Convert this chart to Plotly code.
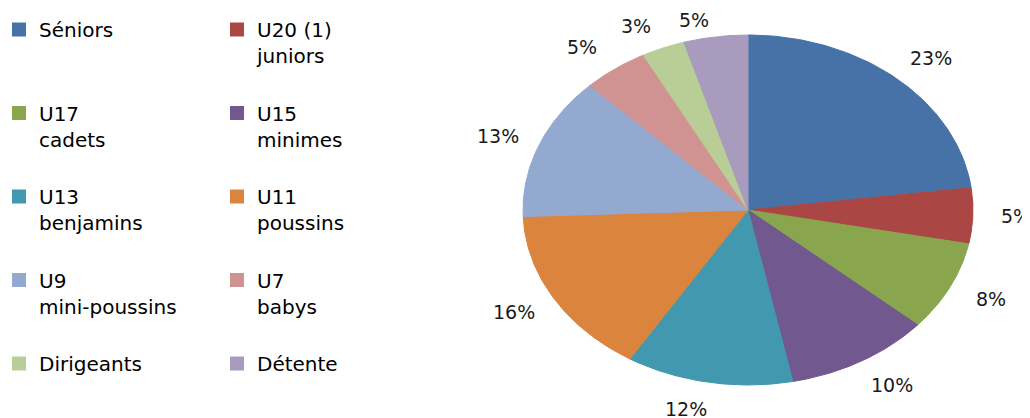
import numpy as np
import plotly.graph_objects as go

# ---- data ----
categories = ["Séniors", "U20 (1)<br>juniors", "U17<br>cadets", "U15<br>minimes",
              "U13<br>benjamins", "U11<br>poussins", "U9<br>mini-poussins",
              "U7<br>babys", "Dirigeants", "Détente"]
values = [22.9, 5.2, 8.3, 10.4, 12.0, 15.6, 13.2, 4.7, 3.1, 4.6]
colors = ["#4672A8", "#AA4644", "#89A54E", "#71588F", "#4198AF",
          "#DB843D", "#93A9CF", "#D19392", "#B9CD96", "#A99BBD"]

# ---- layout constants (pixels, in page coordinates) ----
W, H = 1030, 418
OFF = 8                 # default page body margin that shifts the figure
CX, CY = 748 - OFF, 210 - OFF   # pie centre (figure px)
RX, RY = 225, 175       # ellipse radii
FONT = "DejaVu Sans"

total = float(sum(values))
frac = np.array(values) / total
cum = np.concatenate([[0.0], np.cumsum(frac)])

fig = go.Figure()

# pie wedges (elliptical pie, clockwise from 12 o'clock)
for i, (name, c) in enumerate(zip(categories, colors)):
    t = np.linspace(cum[i], cum[i + 1], 90) * 2 * np.pi
    xs = np.concatenate([[0.0], np.sin(t), [0.0]])
    ys = np.concatenate([[0.0], np.cos(t), [0.0]])
    fig.add_trace(go.Scatter(
        x=xs, y=ys, mode="lines", fill="toself", fillcolor=c,
        line=dict(color=c, width=1), showlegend=False, hoverinfo="skip",
        legendgroup=f"g{i}"))

# legend entries (one legend per entry, laid out as a 2-column grid)
COL_X0, COL_DX = -1 - OFF, 218
ROW_Y0, ROW_DY = 29 - OFF - 19, 83.5
legends = {}
for i, (name, c) in enumerate(zip(categories, colors)):
    key = "legend" if i == 0 else f"legend{i + 1}"
    fig.add_trace(go.Scatter(
        x=[None], y=[None], mode="markers", name=name,
        marker=dict(symbol="square", size=14, color=c),
        legend=key, legendgroup=f"g{i}", showlegend=True))
    col, row = i % 2, i // 2
    legends[key] = dict(
        x=(COL_X0 + col * COL_DX) / W,
        y=1 - (ROW_Y0 + row * ROW_DY) / H,
        xanchor="left", yanchor="top", valign="top",
        bgcolor="rgba(0,0,0,0)", borderwidth=0,
        font=dict(family=FONT, size=20, color="#000000"),
        orientation="v")

# percentage labels outside the pie
for i in range(len(values)):
    mid = (cum[i] + cum[i + 1]) / 2 * 2 * np.pi
    s, co = np.sin(mid), np.cos(mid)
    fig.add_annotation(
        x=s, y=co, xref="x", yref="y", showarrow=False,
        text=f"{frac[i] * 100:.0f}%",
        xshift=18 * np.sign(s) + 25 * s,
        yshift=27 * co - 10 * max(0.0, co - 0.9) / 0.09,
        font=dict(family=FONT, size=19, color="#1a1a1a"))

fig.update_layout(
    width=W, height=H, autosize=False,
    margin=dict(l=0, r=0, t=0, b=0, autoexpand=False),
    paper_bgcolor="white", plot_bgcolor="white",
    xaxis=dict(range=[-CX / RX, (W - CX) / RX], visible=False, fixedrange=True),
    yaxis=dict(range=[-(H - CY) / RY, CY / RY], visible=False, fixedrange=True),
    **legends)

fig.write_html("out.html")
